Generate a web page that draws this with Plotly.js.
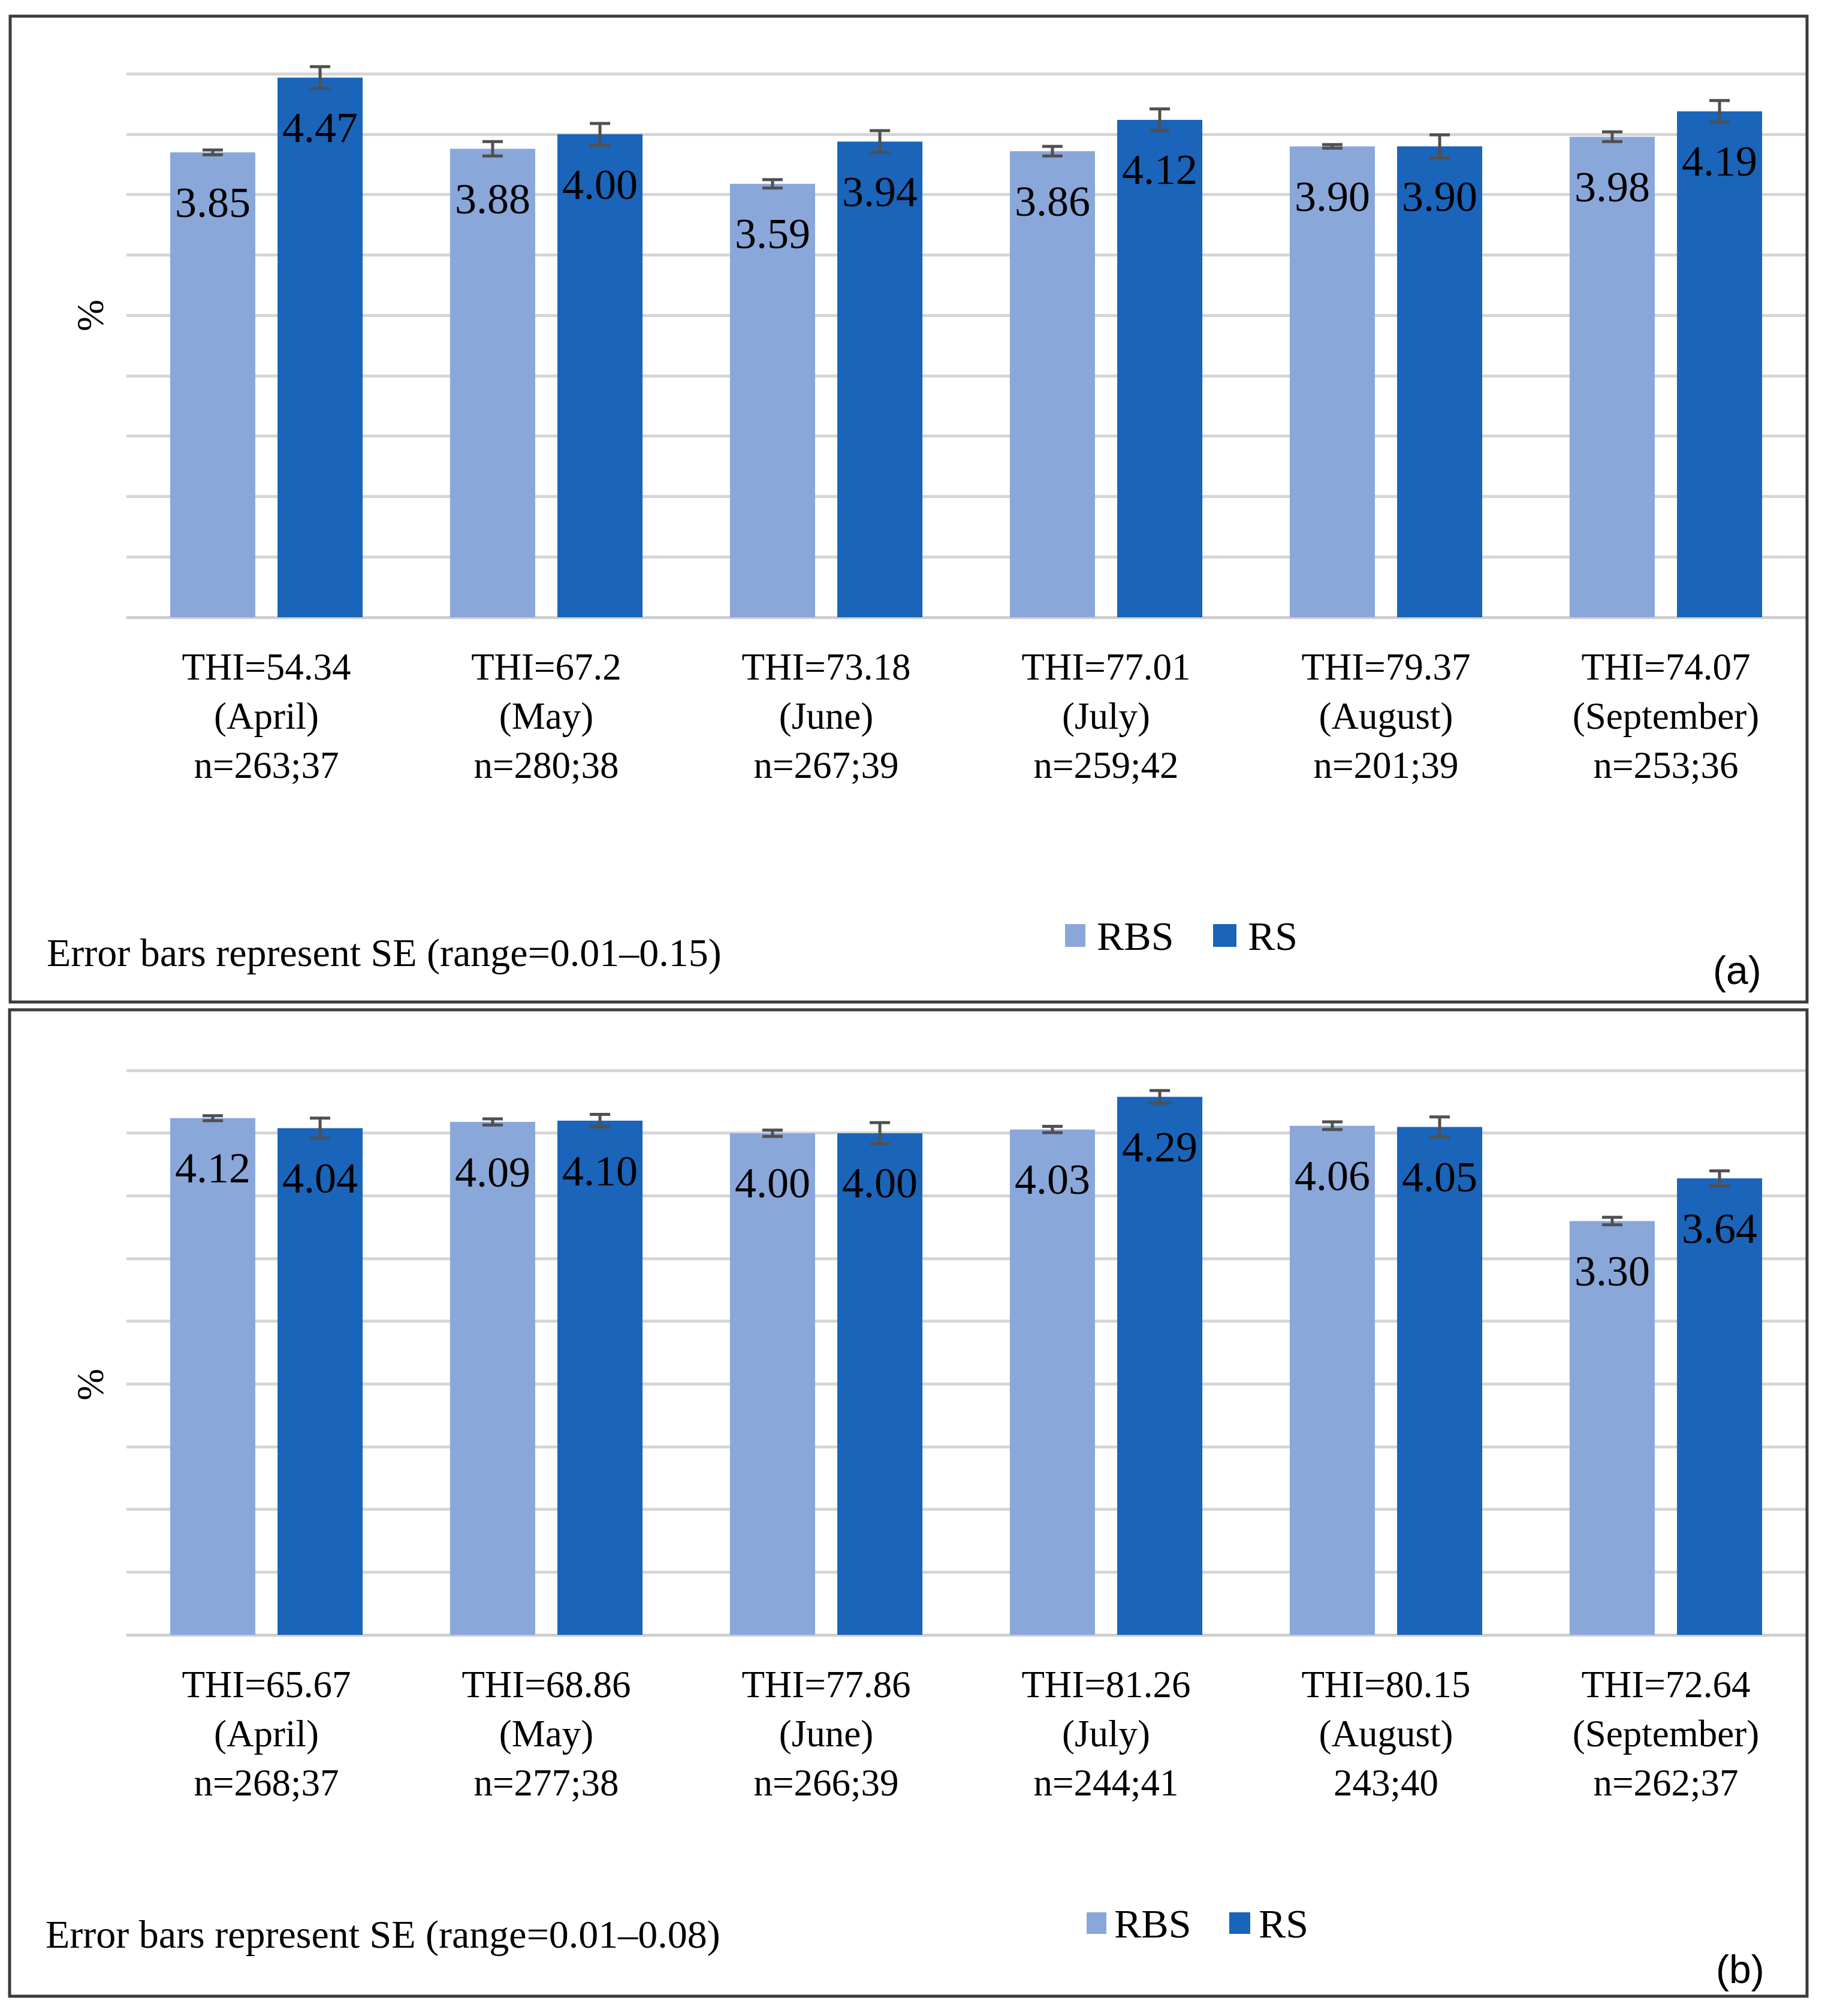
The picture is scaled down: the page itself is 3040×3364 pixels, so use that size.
<!DOCTYPE html>
<html>
<head>
<meta charset="utf-8">
<script src="https://cdn.plot.ly/plotly-3.0.1.min.js"></script>
<style>
  html, body { margin: 0; padding: 0; background: #fff; }
</style>
</head>
<body>
<div id="chart" style="width:3040px;height:3364px"></div>
<script>
// ---- data ----
const months = ['April', 'May', 'June', 'July', 'August', 'September'];
const seriesNames = ['RBS', 'RS'];

// panel (a)
const thiA = ['54.34', '67.2', '73.18', '77.01', '79.37', '74.07'];
const nA = ['n=263;37', 'n=280;38', 'n=267;39', 'n=259;42', 'n=201;39', 'n=253;36'];
const rbsA = [3.85, 3.88, 3.59, 3.86, 3.90, 3.98];
const rsA = [4.47, 4.00, 3.94, 4.12, 3.90, 4.19];
const seRbsA = [0.02, 0.06, 0.035, 0.04, 0.015, 0.04];
const seRsA = [0.09, 0.09, 0.09, 0.09, 0.095, 0.09];

// panel (b)
const thiB = ['65.67', '68.86', '77.86', '81.26', '80.15', '72.64'];
const nB = ['n=268;37', 'n=277;38', 'n=266;39', 'n=244;41', '243;40', 'n=262;37'];
const rbsB = [4.12, 4.09, 4.00, 4.03, 4.06, 3.30];
const rsB = [4.04, 4.10, 4.00, 4.29, 4.05, 3.64];
const seRbsB = [0.02, 0.025, 0.025, 0.025, 0.03, 0.03];
const seRsB = [0.08, 0.05, 0.085, 0.05, 0.08, 0.06];

const notes = ['Error bars represent SE (range=0.01\u20130.15)', 'Error bars represent SE (range=0.01\u20130.08)'];
const panelTags = ['(a)', '(b)'];

// ---- styling ----
const W = 3040, H = 3364;
const colors = ['#8aa7da', '#1a64ba'];
const serif = 'Liberation Serif, Times New Roman, serif';
const sans = 'Liberation Sans, Arial, sans-serif';
const px = x => x / W;
const py = y => 1 - y / H;

function catLabels(thi, n) {
    return thi.map((t, i) => 'THI=' + t + '<br>(' + months[i] + ')<br>' + n[i]);
}

function panelTraces(cats, series, errs, xa, ya) {
    const traces = [];
    series.forEach((vals, k) => {
        traces.push({
            type: 'bar', x: cats, y: vals, name: seriesNames[k],
            xaxis: xa, yaxis: ya, showlegend: false, hoverinfo: 'skip',
            marker: { color: colors[k], line: { width: 0 } },
            error_y: { type: 'data', array: errs[k], visible: true, color: '#505050', thickness: 5, width: 17 }
        });
    });
    // value labels, grouped like the bars
    series.forEach((vals, k) => {
        traces.push({
            type: 'scatter', mode: 'markers+text', x: cats, y: vals,
            xaxis: xa, yaxis: ya, showlegend: false, hoverinfo: 'skip',
            texttemplate: '%{y:.2f}', textposition: 'bottom center',
            textfont: { family: serif, size: 72, color: '#000' },
            marker: { size: 84, color: 'rgba(0,0,0,0)' },
            cliponaxis: false
        });
    });
    return traces;
}

const catsA = catLabels(thiA, nA);
const catsB = catLabels(thiB, nB);

const data = [].concat(
    panelTraces(catsA, [rbsA, rsA], [seRbsA, seRsA], 'x', 'y'),
    panelTraces(catsB, [rbsB, rsB], [seRbsB, seRsB], 'x2', 'y2')
);

function xAxis(anchor) {
    return {
        domain: [px(211), px(3013)], anchor: anchor, type: 'category', range: [-0.5, 5.5],
        showgrid: false, zeroline: false, showline: false, ticks: '',
        tickfont: { family: serif, size: 63, color: '#000' },
        ticklabelstandoff: 40, fixedrange: true
    };
}
function yAxis(anchor, top, bottom) {
    return {
        domain: [py(bottom), py(top)], anchor: anchor, range: [0, 4.75],
        tick0: 0, dtick: 0.5, showticklabels: false, ticks: '',
        gridcolor: '#d6d6d6', gridwidth: 5,
        zeroline: true, zerolinecolor: '#cfcfcf', zerolinewidth: 5,
        showline: false, fixedrange: true
    };
}

// panel frames and legend swatches
const panels = [
    { box: [17, 27, 3015, 1672], pct: [150, 527], note: [76, 1590], tag: [2898, 1619],
      leg: { y: [1542, 1580], sq: [[1777, 1811], [2024, 2063]], tx: [1828, 2080], ty: 1562 } },
    { box: [16, 1685, 3015, 3331], pct: [150, 2311], note: [74, 3228], tag: [2903, 3286],
      leg: { y: [3191, 3227], sq: [[1813, 1846], [2051, 2086]], tx: [1857, 2098], ty: 3210 } }
];

const shapes = [];
const annotations = [];
panels.forEach((p, i) => {
    shapes.push({
        type: 'rect', xref: 'paper', yref: 'paper',
        x0: px(p.box[0]), x1: px(p.box[2]), y0: py(p.box[1]), y1: py(p.box[3]),
        line: { color: '#3c3c3c', width: 5 }, fillcolor: 'rgba(0,0,0,0)'
    });
    seriesNames.forEach((name, k) => {
        shapes.push({
            type: 'rect', xref: 'paper', yref: 'paper',
            x0: px(p.leg.sq[k][0]), x1: px(p.leg.sq[k][1]), y0: py(p.leg.y[0]), y1: py(p.leg.y[1]),
            line: { width: 0 }, fillcolor: colors[k]
        });
        annotations.push({
            xref: 'paper', yref: 'paper', x: px(p.leg.tx[k]), y: py(p.leg.ty),
            xanchor: 'left', yanchor: 'middle', showarrow: false, text: name,
            font: { family: serif, size: 68, color: '#000' }
        });
    });
    annotations.push({
        xref: 'paper', yref: 'paper', x: px(p.pct[0]), y: py(p.pct[1]),
        xanchor: 'center', yanchor: 'middle', showarrow: false, text: '%', textangle: -90,
        font: { family: serif, size: 64, color: '#000' }
    });
    annotations.push({
        xref: 'paper', yref: 'paper', x: px(p.note[0]), y: py(p.note[1]),
        xanchor: 'left', yanchor: 'middle', showarrow: false, text: notes[i],
        font: { family: serif, size: 66, color: '#000' }
    });
    annotations.push({
        xref: 'paper', yref: 'paper', x: px(p.tag[0]), y: py(p.tag[1]),
        xanchor: 'center', yanchor: 'middle', showarrow: false, text: panelTags[i],
        font: { family: sans, size: 66, color: '#000' }
    });
});

const layout = {
    width: W, height: H,
    margin: { l: 0, r: 0, t: 0, b: 0 },
    paper_bgcolor: '#fff', plot_bgcolor: 'rgba(0,0,0,0)',
    barmode: 'group', bargap: 0.233, bargroupgap: 0.207,
    scattermode: 'group', scattergap: 0.233,
    showlegend: false,
    xaxis: xAxis('y'), yaxis: yAxis('x', 73, 1030),
    xaxis2: xAxis('y2'), yaxis2: yAxis('x2', 1734, 2728),
    shapes: shapes, annotations: annotations
};

Plotly.newPlot('chart', data, layout, { displayModeBar: false, staticPlot: true });
</script>
</body>
</html>
